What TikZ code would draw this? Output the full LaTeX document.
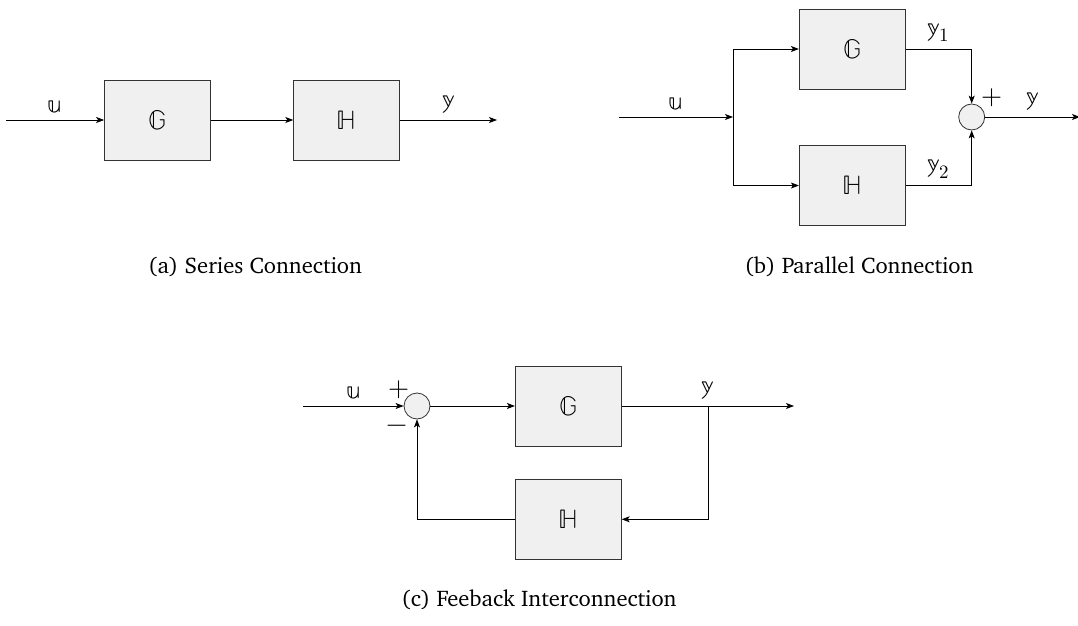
\documentclass[tikz,border=0pt]{standalone}
\usepackage[T1]{fontenc}
\usepackage{unicode-math}
\setmathfont{Latin Modern Math}
\usepackage{tikz}
\usetikzlibrary{calc,arrows.meta}
\definecolor{blockfill}{HTML}{F0F0F0}
\newcommand{\capfont}{\fontencoding{T1}\fontfamily{bch}\fontsize{11.3pt}{13.6pt}\selectfont}

\begin{document}
\begin{tikzpicture}[x=0.5pt,y=-0.5pt,>={Stealth[length=4pt,width=3pt,inset=1pt]},
    every node/.style={font=\fontsize{13.5pt}{16pt}\selectfont},
    block/.style={draw=black!80, fill=blockfill, minimum width=53pt, minimum height=40pt, inner sep=0pt},
    sumnode/.style={draw=black!80, fill=blockfill, circle, minimum size=13pt, inner sep=0pt},
    sig/.style={above=0pt},
    subcap/.style={font=\capfont}]
    \useasboundingbox (0,0) rectangle (1078,626);
    % (a) series
    \coordinate (in1) at (6,120);
    \node[block] (G1) at (157.5,120) {$\mathbb{G}$};
    \node[block] (H1) at (346.7,120) {$\mathbb{H}$};
    \coordinate (out1) at (497,120);
    \draw[->] (in1) -- node[sig] {$\mathbb{u}$} (G1);
    \draw[->] (G1) -- (H1);
    \draw[->] (H1) -- node[sig] {$\mathbb{y}$} (out1);
    \node[subcap] (capa) at (255,267) {(a) Series Connection};
    % (b) parallel
    \coordinate (in2) at (619,117);
    \coordinate (br2) at (733,117);
    \node[block] (G2) at (852.3,49) {$\mathbb{G}$};
    \node[block] (H2) at (852.3,185.5) {$\mathbb{H}$};
    \node[sumnode] (S2) at (971.7,117) {};
    \coordinate (out2) at (1080,117);
    \draw[->] (in2) -- node[sig] {$\mathbb{u}$} (br2);
    \draw[->] (br2) |- (G2);
    \draw[->] (br2) |- (H2);
    \draw[->] (G2) -| node[pos=0.25, sig] {$\mathbb{y}_1$} (S2);
    \draw[->] (H2) -| node[pos=0.25, sig] {$\mathbb{y}_2$} (S2);
    \draw[->] (S2) -- node[sig] {$\mathbb{y}$} (out2);
    \node[inner sep=0pt] (p2) at (991.7,98) {$+$};
    \node[subcap] (capb) at (859,267) {(b) Parallel Connection};
    % (c) feedback
    \coordinate (in3) at (303,406);
    \node[sumnode] (S3) at (417,406) {};
    \node[block] (G3) at (568.3,406) {$\mathbb{G}$};
    \node[block] (H3) at (568.3,519.3) {$\mathbb{H}$};
    \coordinate (tap3) at (708.3,406);
    \coordinate (out3) at (794,406);
    \draw[->] (in3) -- node[sig] {$\mathbb{u}$} (S3);
    \draw[->] (S3) -- (G3);
    \draw[->] (G3) -- (out3);
    \node[sig] (y3) at (tap3) {$\mathbb{y}$};
    \draw[->] (tap3) |- (H3);
    \draw[->] (H3) -| (S3);
    \node[inner sep=0pt] (p3) at (399,390) {$+$};
    \node[inner sep=0pt] (m3) at (397.3,429) {$-$};
    \node[subcap] (capc) at (539,600) {(c) Feeback Interconnection};
\end{tikzpicture}
\end{document}
